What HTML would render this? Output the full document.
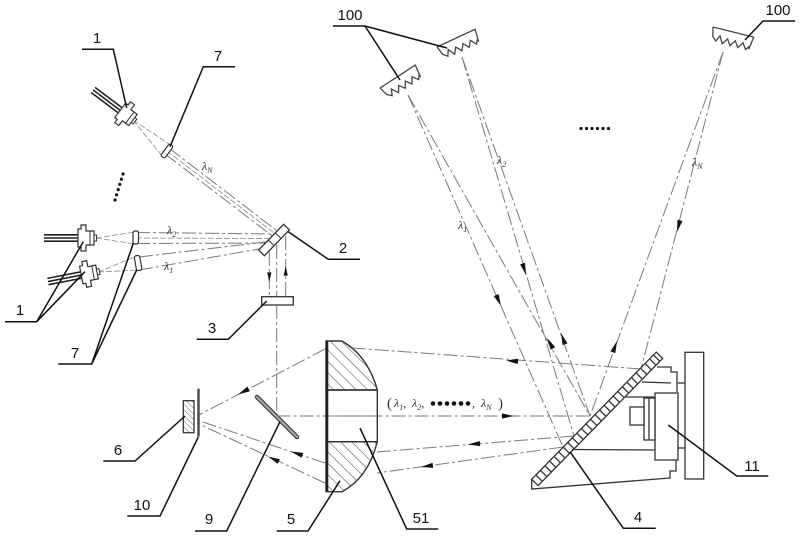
<!DOCTYPE html>
<html>
<head>
<meta charset="utf-8">
<style>
html,body{margin:0;padding:0;background:#fff;}
svg{display:block;}
.lbl{font-family:"Liberation Sans",sans-serif;font-size:15px;fill:#111;text-anchor:middle;}
.ld{stroke:#111;stroke-width:1.5;fill:none;}
.bm{stroke:#7a7a7a;stroke-width:1;fill:none;stroke-dasharray:14 3 3 3;}
.fan{stroke:#8a8a8a;stroke-width:0.8;fill:none;stroke-dasharray:6 2;}
.ol{stroke:#333;stroke-width:1.3;fill:#fff;}
.lam{font-family:"Liberation Serif",serif;font-style:italic;font-size:12px;fill:#333;}
</style>
</head>
<body>
<svg width="800" height="536" viewBox="0 0 800 536" xmlns="http://www.w3.org/2000/svg">
<defs>
  <pattern id="h" patternUnits="userSpaceOnUse" width="8" height="8" patternTransform="rotate(-45)">
    <rect width="8" height="8" fill="#fff"/>
    <line x1="0" y1="0" x2="0" y2="8" stroke="#444" stroke-width="1"/>
  </pattern>
  <pattern id="h2" patternUnits="userSpaceOnUse" width="4" height="4" patternTransform="rotate(-45)">
    <rect width="4" height="4" fill="#fff"/>
    <line x1="0" y1="0" x2="0" y2="4" stroke="#444" stroke-width="0.8"/>
  </pattern>
  <path id="ah" d="M0,0 L-12,-2.6 L-12,2.6 Z" fill="#111"/>
  <g id="laser">
    <line x1="-50" y1="-3.2" x2="-15" y2="-3.2" stroke="#222" stroke-width="1.6"/>
    <line x1="-50" y1="0" x2="-15" y2="0" stroke="#222" stroke-width="1.6"/>
    <line x1="-50" y1="3.2" x2="-15" y2="3.2" stroke="#222" stroke-width="1.6"/>
    <path d="M-16,-4 L-16,-9 L-13,-9 L-13,-13 L-8,-13 L-8,-7 L0,-7 L0,7 L-8,7 L-8,13 L-13,13 L-13,9 L-16,9 L-16,4 Z" fill="#fff" stroke="#333" stroke-width="1.2"/>
    <line x1="-4" y1="-7" x2="-4" y2="7" stroke="#333" stroke-width="1"/>
    <rect x="0" y="-3" width="2.5" height="6" fill="#fff" stroke="#333" stroke-width="1"/>
  </g>
  <path id="grt" d="M0,0 L42,0 L40,13 M0,0 L2,9 L6,13 L9,7 L13,14 L17,8 L21,14 L25,8 L29,14 L33,8 L37,14 L40,10" fill="none" stroke="#444" stroke-width="1.3"/>
</defs>

<rect width="800" height="536" fill="#fff"/>

<!-- ===== gratings 100 ===== -->
<use href="#grt" transform="translate(380,88) rotate(-33)"/>
<use href="#grt" transform="translate(437,47) rotate(-25)"/>
<use href="#grt" transform="translate(713,27) rotate(14)"/>

<!-- beams from/to gratings 100 -->
<line class="bm" x1="408" y1="95" x2="563" y2="447"/>
<line class="bm" x1="408" y1="95" x2="590" y2="416"/>
<line class="bm" x1="462" y1="57" x2="574" y2="436"/>
<line class="bm" x1="462" y1="57" x2="590" y2="416"/>
<line class="bm" x1="723" y1="52" x2="590" y2="416"/>
<line class="bm" x1="723" y1="52" x2="641" y2="369"/>

<use href="#ah" transform="translate(501,306) rotate(66.2)"/>
<use href="#ah" transform="translate(547,338) rotate(-119.6)"/>
<use href="#ah" transform="translate(526,275) rotate(73.5)"/>
<use href="#ah" transform="translate(561,333) rotate(-109.6)"/>
<use href="#ah" transform="translate(617,341) rotate(-70)"/>
<use href="#ah" transform="translate(677,232) rotate(104.5)"/>

<text class="lam" x="458" y="229">λ<tspan font-size="8" dy="3">1</tspan></text>
<text class="lam" x="497" y="164">λ<tspan font-size="8" dy="3">2</tspan></text>
<text class="lam" x="692" y="166">λ<tspan font-size="8" dy="3">N</tspan></text>

<!-- dots top right -->
<g fill="#111">
  <circle cx="581" cy="128.5" r="1.6"/><circle cx="586.5" cy="128.5" r="1.6"/><circle cx="592" cy="128.5" r="1.6"/>
  <circle cx="597.5" cy="128.5" r="1.6"/><circle cx="603" cy="128.5" r="1.6"/><circle cx="608.5" cy="128.5" r="1.6"/>
</g>

<!-- labels 100 -->
<text class="lbl" x="350" y="20">100</text>
<polyline class="ld" points="333,26 365,26 447,48"/>
<line class="ld" x1="365" y1="26" x2="400" y2="80"/>
<text class="lbl" x="778" y="15">100</text>
<polyline class="ld" points="795,21 763,21 745,40"/>

<!-- ===== lasers, left side ===== -->
<!-- top laser λN -->
<line class="fan" x1="133" y1="120" x2="162.7" y2="156.6"/>
<line class="fan" x1="133" y1="120" x2="171.3" y2="145.4"/>
<line class="bm" x1="169.1" y1="148.2" x2="278.7" y2="232.1"/>
<line class="bm" x1="164.9" y1="153.8" x2="274.5" y2="237.7"/>
<line class="fan" x1="167" y1="151" x2="276.6" y2="234.9"/>
<use href="#laser" transform="translate(133,120) rotate(37)"/>
<rect x="-2.5" y="-7.5" width="5" height="15" rx="2" fill="#fff" stroke="#333" stroke-width="1.2" transform="translate(167,151) rotate(37)"/>
<text class="lam" x="202" y="170">λ<tspan font-size="8" dy="3">N</tspan></text>

<!-- dots left -->
<g fill="#111">
  <circle cx="123" cy="174" r="1.6"/><circle cx="121.4" cy="179.2" r="1.6"/><circle cx="119.8" cy="184.4" r="1.6"/>
  <circle cx="118.2" cy="189.6" r="1.6"/><circle cx="116.6" cy="194.8" r="1.6"/><circle cx="115" cy="200" r="1.6"/>
</g>

<!-- λ2 laser -->
<line class="fan" x1="96" y1="238" x2="135" y2="232"/>
<line class="fan" x1="96" y1="238" x2="135" y2="244"/>
<line class="bm" x1="136" y1="232.5" x2="276" y2="234"/>
<line class="bm" x1="136" y1="243.5" x2="270" y2="243"/>
<line class="fan" x1="136" y1="238" x2="273" y2="238.5"/>
<use href="#laser" transform="translate(94,238)"/>
<rect x="133" y="231" width="5.5" height="13" rx="2" fill="#fff" stroke="#333" stroke-width="1.2"/>
<text class="lam" x="167" y="234">λ<tspan font-size="8" dy="3">2</tspan></text>

<!-- λ1 laser -->
<line class="fan" x1="98" y1="272" x2="137" y2="256"/>
<line class="fan" x1="98" y1="272" x2="139" y2="270"/>
<line class="bm" x1="139" y1="257" x2="268" y2="241.7"/>
<line class="bm" x1="139" y1="270" x2="268" y2="247.5"/>
<use href="#laser" transform="translate(97,272) rotate(-11)"/>
<rect x="-2.7" y="-7.5" width="5.5" height="15" rx="2" fill="#fff" stroke="#333" stroke-width="1.2" transform="translate(138,263) rotate(-10)"/>
<text class="lam" x="164" y="270">λ<tspan font-size="8" dy="3">1</tspan></text>

<!-- mirror 2 -->
<g transform="translate(274,240) rotate(-46)">
  <rect x="-18" y="-4" width="36" height="8" fill="#fff" stroke="#333" stroke-width="1.3"/>
  <line x1="-4" y1="-4" x2="-4" y2="4" stroke="#333" stroke-width="1"/>
  <line x1="6" y1="-4" x2="6" y2="4" stroke="#333" stroke-width="1"/>
</g>

<!-- beams mirror 2 -> 3 -->
<line class="bm" x1="269.3" y1="252" x2="269.3" y2="297"/>
<line class="bm" x1="276.7" y1="245" x2="276.7" y2="297"/>
<line class="bm" x1="285.7" y1="236" x2="285.7" y2="297"/>
<use href="#ah" transform="translate(269.3,282) rotate(90) scale(0.8)"/>
<use href="#ah" transform="translate(285.7,266) rotate(-90) scale(0.8)"/>

<!-- element 3 -->
<rect x="261.7" y="296.7" width="31.6" height="8.3" fill="#fff" stroke="#333" stroke-width="1.3"/>
<line class="bm" x1="276.7" y1="305" x2="276.7" y2="416"/>

<!-- labels left -->
<text class="lbl" x="97" y="43">1</text>
<polyline class="ld" points="82,49.3 113.3,49.3 126.7,108"/>
<text class="lbl" x="218" y="61">7</text>
<polyline class="ld" points="235,66.7 203.3,66.7 170,146.7"/>
<text class="lbl" x="20" y="315">1</text>
<polyline class="ld" points="5,321.7 36.7,321.7 83.3,241.7"/>
<line class="ld" x1="36.7" y1="321.7" x2="85" y2="271.7"/>
<text class="lbl" x="75" y="358">7</text>
<polyline class="ld" points="58.3,364 91.7,364 133.3,243.3"/>
<line class="ld" x1="91.7" y1="364" x2="136.7" y2="270"/>
<text class="lbl" x="343" y="253">2</text>
<polyline class="ld" points="288.3,231.7 328.3,259.3 360,259.3"/>
<text class="lbl" x="212" y="333">3</text>
<polyline class="ld" points="196.7,339.3 228.3,339.3 266.7,301"/>

<!-- ===== lower left: 6, 10, 9 ===== -->
<line class="bm" x1="325" y1="349" x2="197" y2="416"/>
<line class="bm" x1="325" y1="463" x2="197" y2="420"/>
<line class="bm" x1="325" y1="483" x2="197" y2="423"/>
<use href="#ah" transform="translate(238,394.5) rotate(152.4)"/>
<use href="#ah" transform="translate(291,451.5) rotate(198.6)"/>
<use href="#ah" transform="translate(268,456.5) rotate(205)"/>

<rect x="183.3" y="400.7" width="10.7" height="32" fill="url(#h2)" stroke="#333" stroke-width="1.3"/>
<line x1="198.5" y1="388.7" x2="198.5" y2="436.7" stroke="#555" stroke-width="2.6"/>

<line x1="257" y1="397" x2="297" y2="437" stroke="#444" stroke-width="4.5" stroke-linecap="round"/>
<line x1="257" y1="397" x2="297" y2="437" stroke="#aaa" stroke-width="2" stroke-linecap="round"/>

<!-- main axis -->
<line class="bm" x1="276.7" y1="416" x2="590" y2="416"/>
<use href="#ah" transform="translate(514,416)"/>

<!-- ===== lens 5 / 51 ===== -->
<path d="M326,341 L342,341 Q368,356 377.3,390 L326,390 Z" fill="url(#h)" stroke="#333" stroke-width="1.4"/>
<path d="M326,441.7 L377.3,441.7 Q368,478 342,491.7 L326,491.7 Z" fill="url(#h)" stroke="#333" stroke-width="1.4"/>
<rect x="326" y="390" width="51.3" height="51.7" fill="none" stroke="#333" stroke-width="1.4"/>
<line class="bm" x1="326" y1="416" x2="377" y2="416"/>
<line x1="327" y1="341" x2="327" y2="491.7" stroke="#222" stroke-width="2.6"/>

<!-- formula -->
<text x="387" y="408" font-family="Liberation Serif,serif" font-size="15" fill="#333">(</text>
<text class="lam" x="394" y="407" font-size="13">λ<tspan font-size="8" dy="3">1</tspan><tspan dy="-3" font-style="normal">,</tspan></text>
<text class="lam" x="412" y="407" font-size="13">λ<tspan font-size="8" dy="3">2</tspan><tspan dy="-3" font-style="normal">,</tspan></text>
<g fill="#111">
  <circle cx="433" cy="403.5" r="2.3"/><circle cx="440" cy="403.5" r="2.3"/><circle cx="447" cy="403.5" r="2.3"/>
  <circle cx="454" cy="403.5" r="2.3"/><circle cx="461" cy="403.5" r="2.3"/><circle cx="468" cy="403.5" r="2.3"/>
</g>
<text class="lam" x="472" y="407" font-size="13" font-style="normal">,</text>
<text class="lam" x="481" y="407" font-size="13">λ<tspan font-size="8" dy="3">N</tspan></text>
<text x="498" y="408" font-family="Liberation Serif,serif" font-size="15" fill="#333">)</text>

<!-- return beams to lens -->
<line class="bm" x1="641" y1="369" x2="353" y2="348"/>
<line class="bm" x1="574" y1="436" x2="377" y2="452"/>
<line class="bm" x1="563" y1="447" x2="377" y2="473"/>
<use href="#ah" transform="translate(506,360.5) rotate(184.2)"/>
<use href="#ah" transform="translate(468,444.5) rotate(175.4)"/>
<use href="#ah" transform="translate(421,467) rotate(172)"/>

<!-- ===== grating 4 + mount 11 ===== -->
<g transform="translate(531.7,479.3) rotate(-45.6)">
  <rect x="0" y="0" width="178" height="9" fill="#fff" stroke="#333" stroke-width="1.3"/>
  <g stroke="#333" stroke-width="1.3">
    <line x1="6" y1="0" x2="6" y2="9"/><line x1="12.5" y1="0" x2="12.5" y2="9"/><line x1="19" y1="0" x2="19" y2="9"/>
    <line x1="25.5" y1="0" x2="25.5" y2="9"/><line x1="32" y1="0" x2="32" y2="9"/><line x1="38.5" y1="0" x2="38.5" y2="9"/>
    <line x1="45" y1="0" x2="45" y2="9"/><line x1="51.5" y1="0" x2="51.5" y2="9"/><line x1="58" y1="0" x2="58" y2="9"/>
    <line x1="64.5" y1="0" x2="64.5" y2="9"/><line x1="71" y1="0" x2="71" y2="9"/><line x1="77.5" y1="0" x2="77.5" y2="9"/>
    <line x1="84" y1="0" x2="84" y2="9"/><line x1="90.5" y1="0" x2="90.5" y2="9"/><line x1="97" y1="0" x2="97" y2="9"/>
    <line x1="103.5" y1="0" x2="103.5" y2="9"/><line x1="110" y1="0" x2="110" y2="9"/><line x1="116.5" y1="0" x2="116.5" y2="9"/>
    <line x1="123" y1="0" x2="123" y2="9"/><line x1="129.5" y1="0" x2="129.5" y2="9"/><line x1="136" y1="0" x2="136" y2="9"/>
    <line x1="142.5" y1="0" x2="142.5" y2="9"/><line x1="149" y1="0" x2="149" y2="9"/><line x1="155.5" y1="0" x2="155.5" y2="9"/>
    <line x1="162" y1="0" x2="162" y2="9"/><line x1="168.5" y1="0" x2="168.5" y2="9"/><line x1="174" y1="0" x2="174" y2="9"/>
  </g>
</g>
<g stroke="#333" stroke-width="1.3" fill="none">
  <polyline points="531.7,479.3 531.7,489 670,478 670,471 676,471 676,460"/>
  <polyline points="657,367 671,367 671,372 677,372 677,392"/>
  <line x1="642" y1="382" x2="671" y2="383"/>
  <line x1="625" y1="397" x2="655" y2="397"/>
  <line x1="572" y1="449.5" x2="655" y2="450"/>
  <rect x="655" y="393" width="23" height="67" fill="#fff"/>
  <rect x="644" y="398" width="11" height="42" fill="#fff"/>
  <line x1="649" y1="398" x2="649" y2="440"/>
  <rect x="630" y="407" width="14" height="18" fill="#fff"/>
  <line x1="678" y1="383" x2="685" y2="383"/>
  <line x1="678" y1="448" x2="685" y2="448"/>
  <rect x="685" y="352.3" width="18.7" height="126.7" fill="#fff"/>
</g>

<!-- labels bottom -->
<text class="lbl" x="118" y="455">6</text>
<polyline class="ld" points="103.3,461 135,461 185,416"/>
<text class="lbl" x="142" y="510">10</text>
<polyline class="ld" points="127.3,516 160,516 198.3,437"/>
<text class="lbl" x="209" y="524">9</text>
<polyline class="ld" points="195,531 226.7,531 280,421.7"/>
<text class="lbl" x="291" y="524">5</text>
<polyline class="ld" points="276.7,531 308,531 340,480.7"/>
<text class="lbl" x="421" y="523">51</text>
<polyline class="ld" points="438.3,529 406.7,529 360,428"/>
<text class="lbl" x="638" y="522">4</text>
<polyline class="ld" points="655.7,528.3 623.3,528.3 570,451.7"/>
<text class="lbl" x="752" y="471">11</text>
<polyline class="ld" points="768.3,476 736.7,476 668.3,425"/>
</svg>
</body>
</html>
